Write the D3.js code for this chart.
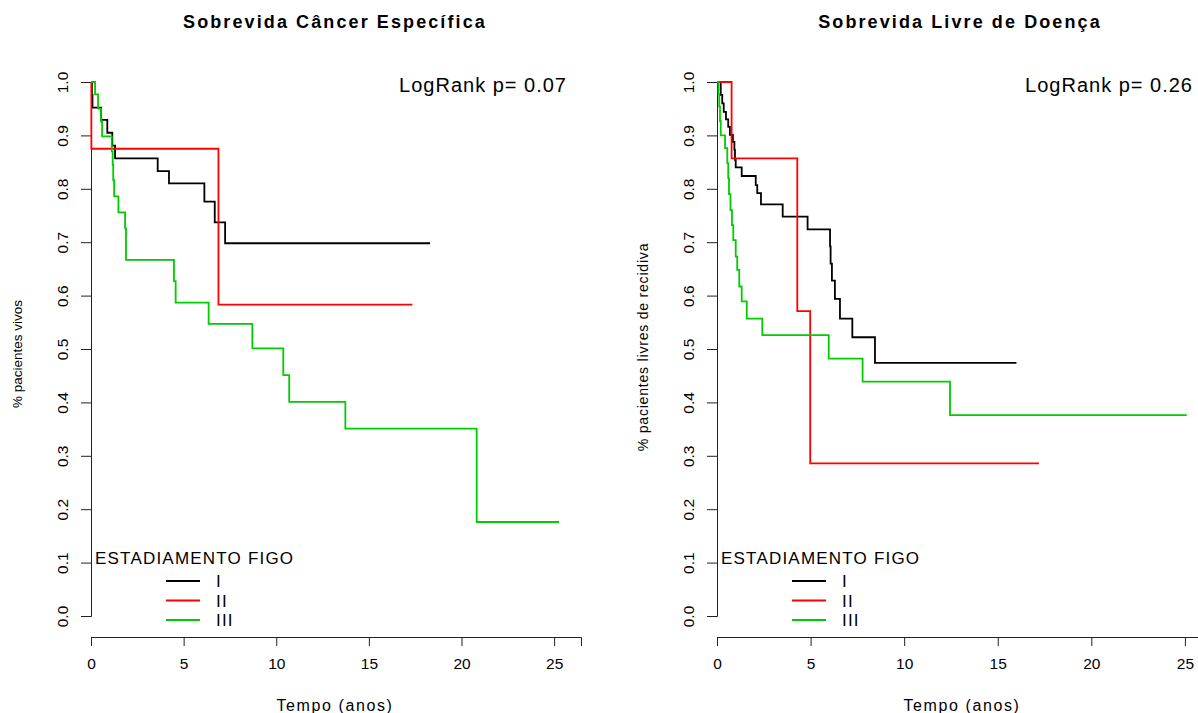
<!DOCTYPE html>
<html>
<head>
<meta charset="utf-8">
<script src="https://cdn.jsdelivr.net/npm/d3@7"></script>
<style>
  body { margin: 0; background: #fff; }
  svg { font-family: "Liberation Sans", Arial, sans-serif; }
</style>
</head>
<body>
<div id="chart"></div>
<script>
// curvas de Kaplan-Meier: [tempo (anos), sobrevida]
// Sobrevida Câncer Específica
const cseI = [[0,1],[0.05,0.976],[0.08,0.952],[0.55,0.929],[0.88,0.905],[1.15,0.881],[1.3,0.857],
  [3.6,0.833],[4.21,0.81],[6.12,0.776],[6.68,0.737],[7.24,0.698],[18.3,0.698]];
const cseII = [[0,1],[0.02,0.875],[6.88,0.583],[17.35,0.583]];
const cseIII = [[0,1],[0.22,0.977],[0.38,0.95],[0.54,0.926],[0.6,0.898],[1.12,0.87],[1.17,0.845],
  [1.2,0.816],[1.25,0.786],[1.48,0.756],[1.84,0.726],[1.89,0.667],[4.48,0.627],[4.57,0.587],
  [6.35,0.547],[8.71,0.501],[10.38,0.451],[10.7,0.401],[13.73,0.351],[20.82,0.176],[25.27,0.176]];

// Sobrevida Livre de Doença
const sldI = [[0,1],[0.2,0.976],[0.28,0.96],[0.36,0.944],[0.48,0.93],[0.6,0.916],[0.69,0.901],
  [0.85,0.888],[0.93,0.873],[0.96,0.854],[1.0,0.84],[1.32,0.824],[2.07,0.807],[2.15,0.792],
  [2.35,0.771],[3.51,0.748],[4.84,0.724],[6.04,0.692],[6.07,0.66],[6.14,0.628],[6.3,0.594],
  [6.57,0.557],[7.23,0.522],[8.44,0.474],[16.0,0.474]];
const sldII = [[0,1],[0.78,0.857],[4.29,0.571],[4.98,0.286],[17.2,0.286]];
const sldIII = [[0,1],[0.08,0.977],[0.12,0.954],[0.16,0.927],[0.2,0.9],[0.43,0.876],[0.55,0.848],
  [0.6,0.82],[0.64,0.79],[0.72,0.76],[0.8,0.732],[0.87,0.704],[1.0,0.673],[1.08,0.648],
  [1.19,0.617],[1.32,0.589],[1.59,0.557],[2.42,0.526],[5.97,0.482],[7.78,0.439],[12.45,0.376],[25.1,0.376]];

const xTicks = [0, 5, 10, 15, 20, 25];
const yTicks = [0, 0.1, 0.2, 0.3, 0.4, 0.5, 0.6, 0.7, 0.8, 0.9, 1.0];
const grupos = ["I", "II", "III"];
const cores = ["#000000", "#ff0000", "#00cd00"];

const paineis = [
  { titulo: "Sobrevida Câncer Específica", ylabel: "% pacientes vivos", p: "LogRank p= 0.07",
    series: [cseI, cseII, cseIII], x0: 91, x1: 581, xmax: 26.45, tx: 335, xl: 335,
    ylx: 22, yly: 354, ylfs: 13.5, ylsp: 0, pr: 567, lg: 95 },
  { titulo: "Sobrevida Livre de Doença", ylabel: "% pacientes livres de recidiva", p: "LogRank p= 0.26",
    series: [sldI, sldII, sldIII], x0: 717, x1: 1198, xmax: 25.7, tx: 960, xl: 962,
    ylx: 648, yly: 347, ylfs: 14, ylsp: 0.8, pr: 1193, lg: 721 }
];

const svg = d3.select("#chart").append("svg")
  .attr("width", 1198)
  .attr("height", 713);

const y = d3.scaleLinear().domain([0, 1]).range([616, 82]);

paineis.forEach(pn => {
  const x = d3.scaleLinear().domain([0, pn.xmax]).range([pn.x0, pn.x1]);
  const g = svg.append("g");

  // eixo x
  const ax = g.append("g")
    .attr("transform", "translate(0,637)")
    .call(d3.axisBottom(x).tickValues(xTicks).tickSizeOuter(0).tickSize(9).tickPadding(12));
  ax.selectAll("text").style("font-size", "15.5px").attr("fill", "#000");

  // eixo y
  const ay = g.append("g")
    .attr("transform", `translate(${pn.x0},0)`)
    .call(d3.axisLeft(y).tickValues(yTicks).tickFormat(d3.format(".1f")).tickSizeOuter(0).tickSize(10));
  ay.selectAll("text")
    .attr("transform", "rotate(-90)")
    .attr("x", 0).attr("y", -23).attr("dy", 0)
    .style("text-anchor", "middle")
    .style("font-size", "15.5px").attr("fill", "#000");
  g.selectAll(".domain, .tick line").attr("stroke", "#222");

  // curvas
  const linha = d3.line()
    .x(d => x(d[0]))
    .y(d => y(d[1]))
    .curve(d3.curveStepAfter);
  pn.series.forEach((s, i) => {
    g.append("path")
      .datum(s)
      .attr("d", linha)
      .attr("fill", "none")
      .attr("stroke", cores[i])
      .attr("stroke-width", 1.8);
  });

  // títulos
  g.append("text")
    .attr("x", pn.tx).attr("y", 28)
    .attr("text-anchor", "middle")
    .style("font-size", "18px").style("font-weight", "bold").style("letter-spacing", "2.1px")
    .text(pn.titulo);

  g.append("text")
    .attr("x", pn.xl).attr("y", 711)
    .attr("text-anchor", "middle")
    .style("font-size", "16px").style("letter-spacing", "1.6px")
    .text("Tempo (anos)");

  g.append("text")
    .attr("transform", `translate(${pn.ylx},${pn.yly}) rotate(-90)`)
    .attr("text-anchor", "middle")
    .style("font-size", pn.ylfs + "px").style("letter-spacing", pn.ylsp + "px")
    .text(pn.ylabel);

  g.append("text")
    .attr("x", pn.pr).attr("y", 92)
    .attr("text-anchor", "end")
    .style("font-size", "20px").style("letter-spacing", "1px")
    .text(pn.p);

  // legenda
  const lg = g.append("g").attr("transform", `translate(${pn.lg},0)`);
  lg.append("text")
    .attr("x", 0).attr("y", 564)
    .style("font-size", "17px").style("letter-spacing", "1.2px")
    .text("ESTADIAMENTO FIGO");
  grupos.forEach((gr, i) => {
    const ly = 581 + i * 19.5;
    lg.append("line")
      .attr("x1", 71).attr("x2", 105)
      .attr("y1", ly).attr("y2", ly)
      .attr("stroke", cores[i]).attr("stroke-width", 1.8);
    lg.append("text")
      .attr("x", 121).attr("y", ly + 6)
      .style("font-size", "17px").style("letter-spacing", "1.2px")
      .text(gr);
  });
});
</script>
</body>
</html>
